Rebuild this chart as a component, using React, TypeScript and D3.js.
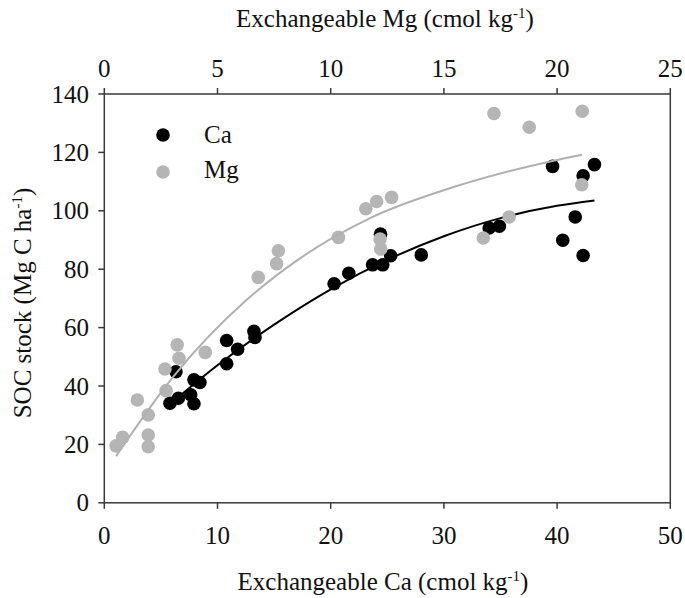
import React from "react";
import * as d3 from "d3";

// Exchangeable Ca (cmol/kg) vs SOC stock (Mg C/ha)
const caX = [5.8, 6.33, 6.54, 7.63, 7.92, 7.92, 8.45, 10.81, 10.81, 11.78, 13.22, 13.31, 20.3, 21.6, 23.7, 24.4, 24.6, 25.3, 28.0, 34.0, 34.9, 39.6, 40.5, 41.6, 42.3, 42.3, 43.3];
const caY = [34.1, 44.9, 35.8, 37.0, 33.9, 42.1, 41.2, 55.6, 47.6, 52.6, 58.7, 56.6, 75.0, 78.6, 81.5, 92.0, 81.5, 84.6, 84.9, 94.1, 94.7, 115.2, 89.9, 97.9, 112.0, 84.7, 115.8];

// Exchangeable Mg (cmol/kg) vs SOC stock
const mgX = [0.52, 0.81, 1.46, 1.94, 1.94, 1.94, 2.68, 2.73, 3.22, 3.30, 4.46, 6.80, 7.61, 7.69, 10.34, 11.55, 12.03, 12.69, 12.18, 12.21, 16.74, 17.88, 17.21, 18.77, 21.11, 21.09];
const mgY = [19.5, 22.4, 35.2, 30.1, 23.2, 19.2, 45.8, 38.4, 54.1, 49.5, 51.5, 77.2, 81.9, 86.3, 90.9, 100.7, 103.2, 104.6, 90.3, 86.9, 90.7, 97.9, 133.3, 128.6, 134.1, 108.9];

// Trend lines
const caTrendX = [5.8, 10, 15, 20, 25, 30, 35, 40, 43.3];
const caTrendY = [33.8, 47.1, 61.0, 73.1, 83.2, 91.3, 97.5, 101.7, 103.5];
const mgTrendX = [0.52, 3.05, 6.29, 8.66, 11.74, 15.5, 19.69, 21.1];
const mgTrendY = [16.0, 43.2, 69.5, 83.8, 97.5, 108.3, 116.9, 119.2];

const caTicks = [0, 10, 20, 30, 40, 50];
const mgTicks = [0, 5, 10, 15, 20, 25];
const yTicks = [0, 20, 40, 60, 80, 100, 120, 140];

const legend = [
  { label: "Ca", color: "#000000" },
  { label: "Mg", color: "#b5b5b5" },
];

const FONT = "'Liberation Serif', 'Times New Roman', serif";
const AXIS = "#3a3a3a";
const FS = 25;

export default function App() {
  const W = 685, H = 598;
  const L = 104.3, R = 670.3, T = 94, B = 502.8;
  const xCa = d3.scaleLinear().domain([0, 50]).range([L, R]);
  const xMg = d3.scaleLinear().domain([0, 25]).range([L, R]);
  const y = d3.scaleLinear().domain([0, 140]).range([B, T]);
  const r = 6.8;

  const caLine = d3.line<number>().x((d, i) => xCa(caTrendX[i])).y((d) => y(d)).curve(d3.curveMonotoneX)(caTrendY) || "";
  const mgLine = d3.line<number>().x((d, i) => xMg(mgTrendX[i])).y((d) => y(d)).curve(d3.curveMonotoneX)(mgTrendY) || "";

  return (
    <svg width={W} height={H} style={{ position: "absolute", left: 0, top: 0, background: "#fff" }} fontFamily={FONT}>
      <rect x={0} y={0} width={W} height={H} fill="#fff" />
      {/* frame */}
      <rect x={L} y={T} width={R - L} height={B - T} fill="none" stroke={AXIS} strokeWidth={1.5} />
      {/* bottom ticks */}
      {caTicks.map((t) => (
        <g key={"b" + t}>
          <line x1={xCa(t)} x2={xCa(t)} y1={B} y2={B + 6} stroke={AXIS} strokeWidth={1.5} />
          <text x={xCa(t)} y={544} fontSize={FS} textAnchor="middle" fill="#111">{t}</text>
        </g>
      ))}
      {/* top ticks */}
      {mgTicks.map((t) => (
        <g key={"t" + t}>
          <line x1={xMg(t)} x2={xMg(t)} y1={T} y2={T - 6} stroke={AXIS} strokeWidth={1.5} />
          <text x={xMg(t)} y={77} fontSize={FS} textAnchor="middle" fill="#111">{t}</text>
        </g>
      ))}
      {/* left ticks */}
      {yTicks.map((t) => (
        <g key={"l" + t}>
          <line x1={L - 6} x2={L} y1={y(t)} y2={y(t)} stroke={AXIS} strokeWidth={1.5} />
          <text x={89} y={y(t) + 8.5} fontSize={FS} textAnchor="end" fill="#111">{t}</text>
        </g>
      ))}
      {/* axis titles */}
      <text x={383} y={590} fontSize={FS} textAnchor="middle" fill="#111">
        Exchangeable Ca (cmol kg<tspan dy={-9} fontSize={15}>-1</tspan><tspan dy={9}>)</tspan>
      </text>
      <text x={385} y={27} fontSize={FS} textAnchor="middle" fill="#111">
        Exchangeable Mg (cmol kg<tspan dy={-9} fontSize={15}>-1</tspan><tspan dy={9}>)</tspan>
      </text>
      <text transform={`translate(31,303) rotate(-90)`} fontSize={FS} textAnchor="middle" fill="#111">
        SOC stock (Mg C ha<tspan dy={-9} fontSize={15}>-1</tspan><tspan dy={9}>)</tspan>
      </text>
      {/* Ca points and trend */}
      {caX.map((v, i) => (
        <circle key={"c" + i} cx={xCa(v)} cy={y(caY[i])} r={r} fill="#000" />
      ))}
      <path d={caLine} fill="none" stroke="#000" strokeWidth={2} />
      {/* Mg points and trend */}
      {mgX.map((v, i) => (
        <circle key={"m" + i} cx={xMg(v)} cy={y(mgY[i])} r={r} fill="#b5b5b5" />
      ))}
      <path d={mgLine} fill="none" stroke="#b0b0b0" strokeWidth={2} />
      {/* legend */}
      {legend.map((l, i) => (
        <g key={l.label}>
          <circle cx={163} cy={135 + i * 37} r={r} fill={l.color} />
          <text x={204} y={143 + i * 35} fontSize={FS} fill="#111">{l.label}</text>
        </g>
      ))}
    </svg>
  );
}
